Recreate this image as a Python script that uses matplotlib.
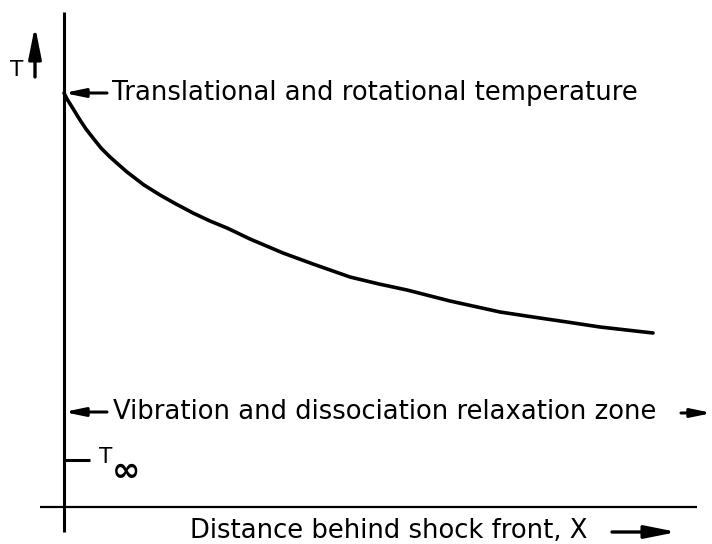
import matplotlib
matplotlib.use("Agg")
import matplotlib.pyplot as plt

# Curve: temperature vs distance behind shock front (arbitrary units)
distance = [0, 3, 8, 16, 22, 29, 37, 46, 55, 63, 80, 96, 112, 129, 146, 163, 186, 219, 249,
            286, 315, 343, 386, 436, 469, 503, 536, 589]
temperature = [414, 408, 400, 387, 378, 369, 359, 350, 342, 335, 322, 312, 303, 294, 286,
               279, 268, 254, 243, 230, 223, 217, 206, 195, 190, 185, 180, 174]

t_inf = 47            # T-infinity level
relax_level = 95      # level of relaxation zone annotation
label_top = "Translational and rotational temperature"
label_zone = "Vibration and dissociation relaxation zone"
label_x = "Distance behind shock front, X"

fig = plt.figure(figsize=(7.12, 5.44), dpi=100)
ax = fig.add_axes([0, 0, 1, 1])
ax.set_xlim(-64, 648)
ax.set_ylim(-37, 507)
ax.axis("off")

FONT = "DejaVu Sans"
fs = 18.6

# axes lines
ax.plot([0, 0], [-25, 495], color="black", lw=2.2, solid_capstyle="butt")
ax.plot([-24, 633], [0, 0], color="black", lw=1.6, solid_capstyle="butt")

# curve
ax.plot(distance, temperature, color="black", lw=2.6, solid_capstyle="round",
        solid_joinstyle="round")

small_arrow = dict(arrowstyle="-|>,head_length=1.2,head_width=0.25", color="black", lw=2.2,
                   shrinkA=0, shrinkB=0)
big_arrow = dict(arrowstyle="-|>,head_length=1.9,head_width=0.38", color="black", lw=2.4,
                 shrinkA=0, shrinkB=0)

# T label with up arrow
ax.text(-47, 437, "T", fontsize=fs - 3, family=FONT, ha="center", va="center")
ax.annotate("", xy=(-29, 481), xytext=(-29, 430), arrowprops=big_arrow)

# Translational annotation
ax.annotate("", xy=(0, temperature[0]), xytext=(43, temperature[0]), arrowprops=small_arrow)
ax.text(48, temperature[0], label_top, fontsize=fs, family=FONT, ha="left", va="center")

# Relaxation zone annotation
ax.annotate("", xy=(0, relax_level), xytext=(43, relax_level), arrowprops=small_arrow)
ax.text(49, relax_level, label_zone, fontsize=fs, family=FONT, ha="left", va="center")
ax.annotate("", xy=(648, relax_level - 1), xytext=(617, relax_level - 1), arrowprops=small_arrow)

# T infinity tick
ax.plot([0, 26], [t_inf, t_inf], color="black", lw=2.2, solid_capstyle="butt")
ax.text(35, t_inf + 3, "T", fontsize=fs - 3, family=FONT, ha="left", va="center")
ax.text(48, t_inf - 11, "\u221e", fontsize=fs + 6, family=FONT, fontweight="bold",
        ha="left", va="center")

# x label with right arrow
ax.text(126, -24, label_x, fontsize=fs, family=FONT, ha="left", va="center")
ax.annotate("", xy=(613, -25), xytext=(548, -25), arrowprops=big_arrow)

fig.savefig("out.png", dpi=100)
